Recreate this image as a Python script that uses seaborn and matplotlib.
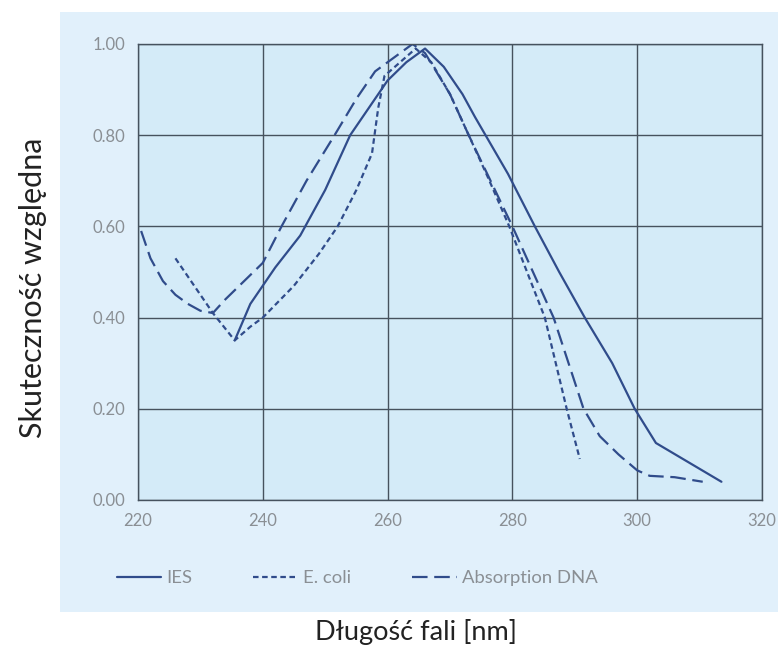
import pandas as pd
import matplotlib.pyplot as plt
import seaborn as sns
from matplotlib.patches import Rectangle

# --- DANE ---
ies_x = [235.5, 238, 240, 242, 246, 250, 254, 257, 260, 263, 266, 269, 272, 274,
         279.3, 283.6, 287.5, 291.6, 296, 299.6, 303, 313.5]
ies_y = [0.35, 0.43, 0.47, 0.51, 0.58, 0.68, 0.80, 0.86, 0.92, 0.96, 0.99, 0.95, 0.89, 0.84,
         0.715, 0.60, 0.50, 0.40, 0.30, 0.20, 0.125, 0.04]

ecoli_x = [226, 229, 232, 235.5, 238, 240, 245, 249, 252, 255, 257.5, 258.5, 259.5, 262,
           264.5, 267, 270, 273, 276, 279.5, 285.2, 288.7, 290.8]
ecoli_y = [0.53, 0.47, 0.41, 0.35, 0.38, 0.40, 0.47, 0.54, 0.60, 0.68, 0.76, 0.86, 0.93, 0.96,
           0.99, 0.96, 0.89, 0.80, 0.71, 0.60, 0.40, 0.20, 0.09]

dna_x = [220.5, 222, 224, 226, 228, 230, 232, 234, 237, 240, 243, 247, 251.5, 255, 258, 261,
         264, 266, 270, 273, 276.5, 280, 286.6, 291.4, 294, 297, 300, 302, 306, 310.5]
dna_y = [0.59, 0.53, 0.48, 0.45, 0.43, 0.415, 0.41, 0.44, 0.48, 0.52, 0.60, 0.70, 0.80, 0.88,
         0.94, 0.97, 1.00, 0.98, 0.89, 0.80, 0.70, 0.60, 0.40, 0.20, 0.14, 0.10, 0.065, 0.053,
         0.05, 0.04]

series_names = ['IES', 'E. coli', 'Absorption DNA']
x_ticks = [220, 240, 260, 280, 300, 320]
y_ticks = [0.0, 0.2, 0.4, 0.6, 0.8, 1.0]

df = pd.concat([
    pd.DataFrame({'nm': ies_x, 'val': ies_y, 'serie': series_names[0]}),
    pd.DataFrame({'nm': ecoli_x, 'val': ecoli_y, 'serie': series_names[1]}),
    pd.DataFrame({'nm': dna_x, 'val': dna_y, 'serie': series_names[2]}),
], ignore_index=True)

# --- ESTILO ---
sns.set_style("white")
plt.rcParams['font.family'] = ['Lato', 'DejaVu Sans']

linea = '#304c8b'
fig = plt.figure(figsize=(7.78, 6.56), dpi=100)

# panel azul claro de fondo (detras de los ejes)
fig.patches.append(Rectangle((60 / 778, 1 - 612 / 656), 1 - 60 / 778, 600 / 656,
                             transform=fig.transFigure, facecolor='#e1f0fb',
                             edgecolor='none', zorder=-10))

ax = fig.add_axes([138 / 778, 1 - 500 / 656, 624 / 778, 456 / 656])
ax.set_facecolor('#d4ebf8')

sns.lineplot(data=df, x='nm', y='val', hue='serie', style='serie',
             palette=[linea] * 3,
             dashes={'IES': '', 'E. coli': (2.5, 1.6), 'Absorption DNA': (7, 3)},
             estimator=None, sort=False, linewidth=1.6, ax=ax)

ax.set_xlim(220, 320)
ax.set_ylim(0, 1.0)
ax.set_xticks(x_ticks)
ax.set_yticks(y_ticks)
ax.set_yticklabels([f'{v:.2f}' for v in y_ticks])
ax.grid(True, color='#46525e', linewidth=1.0)
for s in ax.spines.values():
    s.set_color('#46525e')
    s.set_linewidth(1.0)
ax.tick_params(axis='both', colors='#8a8f94', labelsize=12, length=0, pad=9)
ax.set_axisbelow(True)
ax.set_xlabel('')
ax.set_ylabel('')

fig.text(33 / 778, 1 - 288 / 656, 'Skuteczność względna', rotation=90,
         ha='center', va='center', fontsize=22, color='#222222')
fig.text(416 / 778, 1 - 632 / 656, 'Długość fali [nm]', ha='center', va='center',
         fontsize=19.5, color='#222222')

handles, labels = ax.get_legend_handles_labels()
ax.get_legend().remove()
fig.legend(handles, labels, loc='center left', bbox_to_anchor=(100 / 778, 1 - 578 / 656),
           ncol=3, frameon=False, handlelength=2.4, handletextpad=0.3,
           columnspacing=3.3, fontsize=13.3, labelcolor='#8a8f94')

plt.savefig('out.png', dpi=100)
